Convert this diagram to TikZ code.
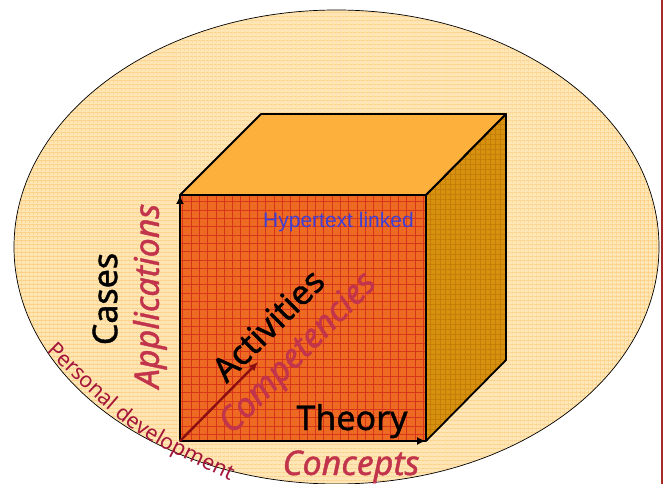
\documentclass[tikz,border=0pt]{standalone}
\usepackage{fontspec}
\setmainfont{Noto Sans}
\newfontfamily\lblfont[FakeBold=1.2]{Noto Sans}
\newfontfamily\arialf{Liberation Sans}
\usetikzlibrary{patterns.meta,arrows.meta,decorations.text}
\definecolor{ellbg}{HTML}{FFE6B5}
\definecolor{ellgrid}{HTML}{FDC670}
\definecolor{frontc}{HTML}{EE6A22}
\definecolor{frontgrid}{HTML}{D8361A}
\definecolor{topc}{HTML}{FDB03C}
\definecolor{sidec}{HTML}{D8910F}
\definecolor{sidegrid}{HTML}{C27E08}
\definecolor{txtred}{HTML}{C2344C}
\definecolor{pdred}{HTML}{A3163A}
\definecolor{hyperblue}{HTML}{3F3FD6}
\definecolor{arrowred}{HTML}{8A0E12}
\definecolor{rulecol}{HTML}{A52A2A}
\tikzset{
  hgrid/.style 2 args={pattern={Lines[distance=#1,angle=0,line width=0.6pt]},pattern color=#2},
  vgrid/.style 2 args={pattern={Lines[distance=#1,angle=90,line width=0.6pt]},pattern color=#2},
  edge/.style={draw=black,line width=1.8pt,line join=round},
  axisarrow/.style={draw=black,line width=2.4pt,-{Latex[length=9pt,width=8pt]}},
  diagarrow/.style={draw=arrowred,line width=2.4pt,-{Latex[length=9pt,width=8pt]}},
  blacklbl/.style={text=black,font=\lblfont\fontsize{34}{36}\selectfont,inner sep=0pt},
  redlbl/.style={text=txtred,font=\lblfont\fontsize{34}{36}\selectfont\itshape,inner sep=0pt},
}
\begin{document}
\begin{tikzpicture}[x=1pt,y=-1pt]
\useasboundingbox (0,0) rectangle (665,484);
% ellipse background
\fill[ellbg] (336.5,247) ellipse [x radius=322.5pt, y radius=237pt];
\fill[hgrid={4pt}{ellgrid}] (336.5,247) ellipse [x radius=322.5pt, y radius=237pt];
\fill[vgrid={4pt}{ellgrid}] (336.5,247) ellipse [x radius=322.5pt, y radius=237pt];
\draw[black,line width=0.7pt] (336.5,247) ellipse [x radius=322.5pt, y radius=237pt];
% right rule
\coordinate (r1) at (662,0);
\coordinate (r2) at (662,484);
\draw[rulecol,line width=2pt] (r1) -- (r2);
% cube corners
\coordinate (A) at (180,195);
\coordinate (B) at (426,195);
\coordinate (C) at (426,441);
\coordinate (D) at (180,441);
\coordinate (E) at (261,114);
\coordinate (F) at (506,114);
\coordinate (G) at (506,360);
% faces
\fill[topc] (A) -- (E) -- (F) -- (B) -- cycle;
\fill[sidec] (B) -- (F) -- (G) -- (C) -- cycle;
\fill[hgrid={5pt}{sidegrid}] (B) -- (F) -- (G) -- (C) -- cycle;
\fill[vgrid={5pt}{sidegrid}] (B) -- (F) -- (G) -- (C) -- cycle;
\fill[frontc] (A) -- (B) -- (C) -- (D) -- cycle;
\fill[hgrid={8.3pt}{frontgrid}] (A) -- (B) -- (C) -- (D) -- cycle;
\fill[vgrid={8.3pt}{frontgrid}] (A) -- (B) -- (C) -- (D) -- cycle;
\draw[edge] (A) -- (E) -- (F) -- (B) -- cycle;
\draw[edge] (B) -- (F) -- (G) -- (C);
\draw[edge] (A) -- (B) -- (C) -- (D) -- cycle;
% axes
\coordinate (dtip) at (258,362);
\draw[axisarrow] (D) -- (A);
\draw[axisarrow] (D) -- (C);
\draw[diagarrow] (D) -- (dtip);
% labels
\node[blacklbl,rotate=90] (cases) at (105,299) {Cases};
\node[redlbl,rotate=90] (appl) at (150,296) {Applications};
\node[blacklbl,rotate=45] (act) at (268,325) {Activities};
\node[redlbl,rotate=46] (comp) at (299,354) {Competencies};
\node[blacklbl,anchor=base] (theory) at (352,430) {Theory};
\node[redlbl,anchor=base] (conc) at (351,475) {Concepts};
\node[text=hyperblue,font=\arialf\fontsize{21}{22}\selectfont,anchor=base west,inner sep=0pt] (hyper) at (263,228) {Hypertext linked};
\path[decorate,decoration={text along path,text align=left,
  text={|\fontsize{21.5}{22}\selectfont\color{pdred}|Personal development}}]
  (46,351) .. controls (130,433) .. (236,484);
\end{tikzpicture}
\end{document}
